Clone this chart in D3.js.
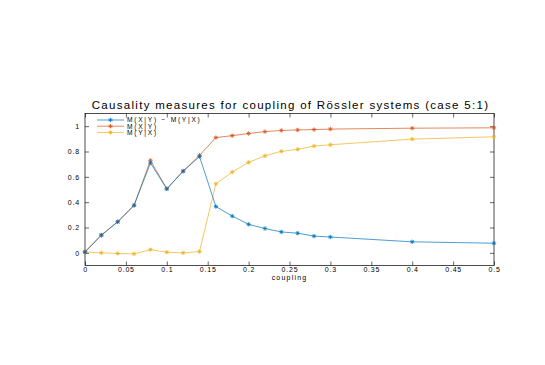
<!DOCTYPE html>
<html>
<head>
<meta charset="utf-8">
<script src="https://cdn.jsdelivr.net/npm/d3@7/dist/d3.min.js"></script>
<style>
  body { margin: 0; background: #fff; }
  text { font-family: "Liberation Sans", Arial, sans-serif; }
</style>
</head>
<body>
<div id="chart"></div>
<script>
// coupling values (x)
var coupling = [0, 0.02, 0.04, 0.06, 0.08, 0.1, 0.12, 0.14, 0.16, 0.18, 0.2, 0.22, 0.24, 0.26, 0.28, 0.3, 0.4, 0.5];
// M(X|Y) - M(Y|X)
var diffVals = [0.005, 0.14, 0.245, 0.375, 0.71, 0.505, 0.645, 0.76, 0.365, 0.29, 0.225, 0.192, 0.165, 0.155, 0.132, 0.125, 0.087, 0.076];
// M(X|Y)
var mxyVals = [0.01, 0.14, 0.245, 0.375, 0.73, 0.505, 0.645, 0.77, 0.91, 0.925, 0.942, 0.957, 0.966, 0.97, 0.973, 0.977, 0.984, 0.987];
// M(Y|X)
var myxVals = [0.005, 0.0, -0.005, -0.008, 0.025, 0.005, 0.0, 0.01, 0.545, 0.638, 0.714, 0.766, 0.801, 0.817, 0.843, 0.853, 0.898, 0.916];
var seriesNames = ["M(X|Y) \u2212 M(Y|X)", "M(X|Y)", "M(Y|X)"];
var xTicks = [0, 0.05, 0.1, 0.15, 0.2, 0.25, 0.3, 0.35, 0.4, 0.45, 0.5];
var yTicks = [0, 0.2, 0.4, 0.6, 0.8, 1];

var width = 545, height = 365;
var plotL = 85, plotR = 494, plotT = 113.5, plotB = 265.5;
var colors = ["#0072BD", "#D95319", "#EDB120"];

var svg = d3.select("#chart").append("svg")
  .attr("width", width)
  .attr("height", height);

var x = d3.scaleLinear().domain([0, 0.5]).range([plotL, plotR]);
var y = d3.scaleLinear().domain([-0.1, 1.1]).range([plotB, plotT]);

var fmt = function(d) { return String(+d.toFixed(2)); };

// axes with inward ticks
svg.append("g")
  .attr("transform", "translate(0," + plotB + ")")
  .call(d3.axisBottom(x).tickValues(xTicks).tickSize(-4).tickPadding(2).tickFormat(fmt))
  .call(function(g) { g.select(".domain").remove(); });
svg.append("g")
  .attr("transform", "translate(0," + plotT + ")")
  .call(d3.axisTop(x).tickValues(xTicks).tickSize(-4).tickFormat(""))
  .call(function(g) { g.select(".domain").remove(); });
svg.append("g")
  .attr("transform", "translate(" + plotL + ",0)")
  .call(d3.axisLeft(y).tickValues(yTicks).tickSize(-4).tickPadding(5).tickFormat(fmt))
  .call(function(g) { g.select(".domain").remove(); });
svg.append("g")
  .attr("transform", "translate(" + plotR + ",0)")
  .call(d3.axisRight(y).tickValues(yTicks).tickSize(-4).tickFormat(""))
  .call(function(g) { g.select(".domain").remove(); });

svg.selectAll(".tick line").attr("stroke", "#000").attr("stroke-width", 0.6);
svg.selectAll(".tick text").attr("font-size", 7).attr("fill", "#000")
  .attr("letter-spacing", 0.8)
  .attr("font-family", "Liberation Sans, Arial, sans-serif");

svg.append("rect")
  .attr("x", plotL).attr("y", plotT)
  .attr("width", plotR - plotL).attr("height", plotB - plotT)
  .attr("fill", "none").attr("stroke", "#000").attr("stroke-width", 0.7);

var series = [diffVals, mxyVals, myxVals];

var line = d3.line()
  .x(function(d, i) { return x(coupling[i]); })
  .y(function(d) { return y(d); });

function star(g, cx, cy, color) {
  var r = 2.2;
  g.append("path")
    .attr("d", "M" + (cx - r) + "," + cy + "H" + (cx + r) +
      "M" + cx + "," + (cy - r) + "V" + (cy + r) +
      "M" + (cx - r * 0.7) + "," + (cy - r * 0.7) + "L" + (cx + r * 0.7) + "," + (cy + r * 0.7) +
      "M" + (cx - r * 0.7) + "," + (cy + r * 0.7) + "L" + (cx + r * 0.7) + "," + (cy - r * 0.7))
    .attr("stroke", color)
    .attr("stroke-width", 0.8)
    .attr("fill", "none");
}

// draw in reverse so blue is on top
[2, 1, 0].forEach(function(k) {
  var g = svg.append("g");
  g.append("path")
    .datum(series[k])
    .attr("d", line)
    .attr("fill", "none")
    .attr("stroke", colors[k])
    .attr("stroke-width", 0.7);
  series[k].forEach(function(v, i) {
    star(g, x(coupling[i]), y(v), colors[k]);
  });
});

// legend
var leg = svg.append("g");
seriesNames.forEach(function(name, k) {
  var ly = 120 + k * 6.2;
  leg.append("line")
    .attr("x1", 97).attr("x2", 124)
    .attr("y1", ly).attr("y2", ly)
    .attr("stroke", colors[k]).attr("stroke-width", 0.7);
  star(leg, 110.5, ly, colors[k]);
  leg.append("text")
    .attr("x", 127).attr("y", ly + 2.4)
    .attr("font-size", 6.6)
    .attr("letter-spacing", 1.75)
    .text(name);
});

svg.append("text")
  .attr("x", (plotL + plotR) / 2 + 1)
  .attr("y", 109)
  .attr("text-anchor", "middle")
  .attr("font-size", 11.5)
  .attr("letter-spacing", 1.3)
  .text("Causality measures for coupling of R\u00f6ssler systems (case 5:1)");

svg.append("text")
  .attr("x", (plotL + plotR) / 2)
  .attr("y", 279.5)
  .attr("text-anchor", "middle")
  .attr("font-size", 7)
  .attr("letter-spacing", 1.2)
  .text("coupling");
</script>
</body>
</html>
